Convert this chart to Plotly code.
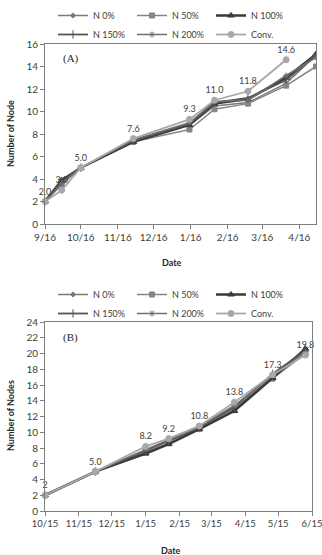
import plotly.graph_objects as go
from plotly.subplots import make_subplots

# ---------------- data ----------------
series_names = ["N 0%", "N 50%", "N 100%", "N 150%", "N 200%", "Conv."]

dates_a = ["2015-09-16", "2015-09-30", "2015-10-16", "2015-11-29", "2016-01-15",
           "2016-02-05", "2016-03-04", "2016-04-05", "2016-04-30"]
a_n0 = [2.0, 3.7, 5.0, 7.4, 8.8, 10.5, 10.8, 12.5, 15.0]
a_n50 = [2.0, 3.5, 5.0, 7.3, 8.4, 10.2, 10.7, 12.3, 14.0]
a_n100 = [2.0, 3.9, 5.0, 7.3, 8.8, 10.7, 11.1, 13.0, 15.1]
a_n150 = [2.0, 3.8, 5.0, 7.4, 8.9, 10.8, 11.2, 12.8, 15.0]
a_n200 = [2.0, 3.6, 5.0, 7.5, 9.0, 10.9, 11.0, 13.2, 14.8]
a_conv = [2.0, 3.0, 5.0, 7.6, 9.3, 11.0, 11.8, 14.6, None]
a_labels = ["2.0", "3.0", "5.0", "7.6", "9.3", "11.0", "11.8", "14.6", ""]
a_tickvals = ["2015-09-16", "2015-10-16", "2015-11-16", "2015-12-16", "2016-01-16",
              "2016-02-16", "2016-03-16", "2016-04-16"]
a_ticktext = ["9/16", "10/16", "11/16", "12/16", "1/16", "2/16", "3/16", "4/16"]

dates_b = ["2015-10-15", "2015-11-30", "2016-01-15", "2016-02-05", "2016-03-04",
           "2016-04-05", "2016-05-10", "2016-06-09"]
b_n0 = [2.0, 5.0, 7.6, 8.8, 10.5, 13.0, 17.0, 20.3]
b_n50 = [2.0, 5.0, 7.4, 8.6, 10.4, 12.8, 16.8, 20.0]
b_n100 = [2.0, 5.0, 7.3, 8.5, 10.4, 12.7, 16.9, 20.6]
b_n150 = [2.0, 5.0, 7.7, 8.9, 10.6, 13.2, 17.4, 20.4]
b_n200 = [2.0, 5.0, 7.8, 9.0, 10.7, 13.4, 17.2, 20.2]
b_conv = [2.0, 5.0, 8.2, 9.2, 10.8, 13.8, 17.3, 19.8]
b_labels = ["2", "5.0", "8.2", "9.2", "10.8", "13.8", "17.3", "19.8"]
b_tickvals = ["2015-10-15", "2015-11-15", "2015-12-15", "2016-01-15", "2016-02-15",
              "2016-03-15", "2016-04-15", "2016-05-15", "2016-06-15"]
b_ticktext = ["10/15", "11/15", "12/15", "1/15", "2/15", "3/15", "4/15", "5/15", "6/15"]

# ---------------- styles ----------------
styles = {
    "N 0%": dict(color="#7a7a7a", width=1.5, symbol="diamond", size=4),
    "N 50%": dict(color="#858585", width=1.5, symbol="square", size=5),
    "N 100%": dict(color="#3a3a3a", width=2.5, symbol="triangle-up", size=6),
    "N 150%": dict(color="#555555", width=1.8, symbol="line-ns", size=6),
    "N 200%": dict(color="#6e6e6e", width=1.5, symbol="asterisk", size=5),
    "Conv.": dict(color="#a8a8a8", width=1.8, symbol="circle", size=6),
}

FONT = "Lato, 'Open Sans', sans-serif"
W, H = 322, 555
ML, MR, MT, MB = 45, 6, 44, 44
PW = W - ML - MR
PH = H - MT - MB

def py(px):
    return 1 - (px - MT) / PH

def pxx(px):
    return (px - ML) / PW

fig = make_subplots(rows=2, cols=1)

def add_panel(row, dates, vals, conv_labels, legend):
    for name, v in zip(series_names, vals):
        s = styles[name]
        tr = dict(
            x=dates, y=v, name=name, legend=legend,
            mode="lines+markers",
            line=dict(color=s["color"], width=s["width"]),
            marker=dict(symbol=s["symbol"], size=s["size"], color=s["color"],
                        line=dict(color=s["color"], width=1)),
        )
        if name == "Conv.":
            tr["mode"] = "lines+markers+text"
            tr["text"] = conv_labels
            tr["textposition"] = "top center"
            tr["textfont"] = dict(size=9, color="#404040", family=FONT)
            tr["cliponaxis"] = False
        fig.add_trace(go.Scatter(**tr), row=row, col=1)

add_panel(1, dates_a, [a_n0, a_n50, a_n100, a_n150, a_n200, a_conv], a_labels, "legend")
add_panel(2, dates_b, [b_n0, b_n50, b_n100, b_n150, b_n200, b_conv], b_labels, "legend2")

axis_common = dict(showline=True, linecolor="#7f7f7f", linewidth=1, mirror=True,
                   ticks="outside", ticklen=4, tickcolor="#7f7f7f",
                   showgrid=False, zeroline=False, ticklabeloverflow="allow",
                   tickfont=dict(size=10, color="#404040", family=FONT))

fig.update_xaxes(axis_common)
fig.update_yaxes(axis_common)

fig.update_xaxes(type="date", range=["2015-09-16", "2016-04-30"], tickvals=a_tickvals,
                 ticktext=a_ticktext, domain=[0, 1], row=1, col=1)
fig.update_xaxes(type="date", range=["2015-10-15", "2016-06-15"], tickvals=b_tickvals,
                 ticktext=b_ticktext, domain=[0, pxx(312)],
                 tickfont=dict(size=9.5, color="#404040", family=FONT), row=2, col=1)
fig.update_yaxes(range=[0, 16], dtick=2, domain=[py(224), py(44)], row=1, col=1)
fig.update_yaxes(range=[0, 24], dtick=2, domain=[py(511), py(322)], row=2, col=1)

title_font = dict(size=9, color="#262626", family=FONT)
annotations = [
    dict(text="<b>Number of Node</b>", xref="paper", yref="paper", x=pxx(10),
         y=py(134), textangle=-90, showarrow=False, font=title_font,
         xanchor="center", yanchor="middle"),
    dict(text="<b>Date</b>", xref="paper", yref="paper", x=pxx(172),
         y=py(262), showarrow=False, font=title_font, xanchor="center", yanchor="middle"),
    dict(text="<b>Number of Nodes</b>", xref="paper", yref="paper", x=pxx(10),
         y=py(416), textangle=-90, showarrow=False, font=title_font,
         xanchor="center", yanchor="middle"),
    dict(text="<b>Date</b>", xref="paper", yref="paper", x=pxx(171),
         y=py(550), showarrow=False, font=title_font, xanchor="center", yanchor="middle"),
    dict(text="(A)", xref="x domain", yref="y domain", x=0.06, y=0.92, showarrow=False,
         font=dict(size=11, family="'Liberation Serif', serif", color="#262626"),
         xanchor="left", yanchor="middle"),
    dict(text="(B)", xref="x2 domain", yref="y2 domain", x=0.06, y=0.92, showarrow=False,
         font=dict(size=11, family="'Liberation Serif', serif", color="#262626"),
         xanchor="left", yanchor="middle"),
]

legend_common = dict(orientation="h", xref="paper", yref="paper", xanchor="left",
                     yanchor="top", entrywidth=34, entrywidthmode="pixels",
                     font=dict(size=9, color="#404040", family=FONT),
                     bgcolor="rgba(0,0,0,0)", tracegroupgap=0, itemwidth=30)

fig.update_layout(
    width=W, height=H,
    margin=dict(l=ML, r=MR, t=MT, b=MB, autoexpand=False),
    paper_bgcolor="white", plot_bgcolor="white",
    font=dict(family=FONT, color="#404040"),
    annotations=annotations,
    legend=dict(legend_common, x=pxx(53), y=py(1)),
    legend2=dict(legend_common, x=pxx(53), y=py(280)),
    showlegend=True,
)

fig.write_html("out.html")
